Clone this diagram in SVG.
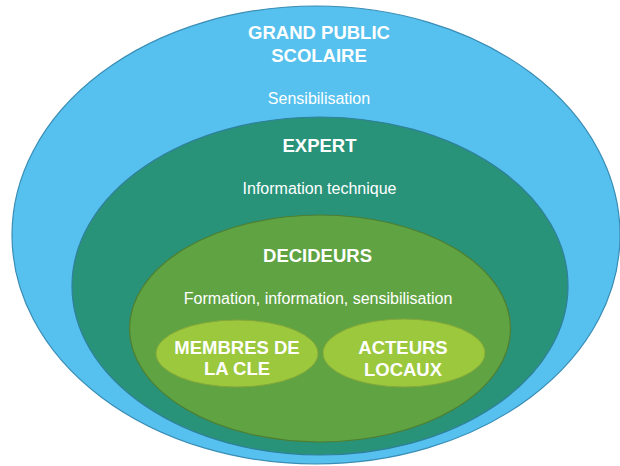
<svg xmlns="http://www.w3.org/2000/svg" width="620" height="466" viewBox="0 0 620 466">
<style>
.t{font-family:"Liberation Sans",Arial,sans-serif;fill:#ffffff;text-anchor:middle}
.b{font-weight:bold;font-size:18.5px}
.r{font-size:16px}
</style>
<rect width="620" height="466" fill="#ffffff"/>
<g id="grand-public">
<ellipse cx="316" cy="235" rx="304" ry="229" fill="#56C1EE" stroke="#3A8DB5" stroke-width="1.2"/>
<text class="t b" x="319" y="39">GRAND PUBLIC</text>
<text class="t b" x="319" y="62">SCOLAIRE</text>
<text class="t r" x="319" y="104">Sensibilisation</text>
</g>
<g id="expert">
<ellipse cx="320" cy="286" rx="248" ry="169" fill="#29937A" stroke="#2F7F9C" stroke-width="1.2"/>
<text class="t b" x="319.5" y="152">EXPERT</text>
<text class="t r" x="319.5" y="194">Information technique</text>
</g>
<g id="decideurs">
<ellipse cx="320" cy="328.5" rx="190.5" ry="113.5" fill="#5FA342" stroke="#4F7E30" stroke-width="1.2"/>
<text class="t b" x="317.5" y="262">DECIDEURS</text>
<text class="t r" x="318" y="304">Formation, information, sensibilisation</text>
</g>
<g id="membres">
<ellipse cx="237" cy="353.5" rx="81" ry="33.5" fill="#9BC83C" stroke="#86A83A" stroke-width="1"/>
<text class="t b" x="237" y="354">MEMBRES DE</text>
<text class="t b" x="237" y="375">LA CLE</text>
</g>
<g id="acteurs">
<ellipse cx="404" cy="353" rx="81" ry="34" fill="#9BC83C" stroke="#86A83A" stroke-width="1"/>
<text class="t b" x="403" y="354">ACTEURS</text>
<text class="t b" x="403" y="376">LOCAUX</text>
</g>
<g id="connectors"></g>
</svg>
